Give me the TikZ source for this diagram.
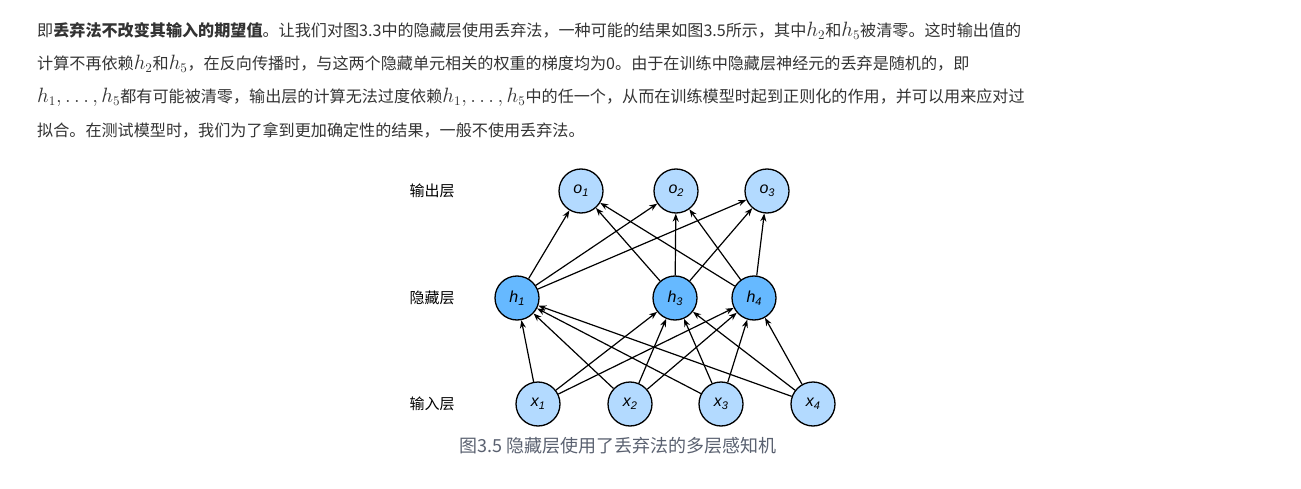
\documentclass[tikz,border=0pt]{standalone}
\usepackage{fontspec}
\setmainfont{Noto Sans CJK SC}
\newfontfamily\lab{Liberation Sans}
\usetikzlibrary{arrows.meta}
\definecolor{txt}{HTML}{333333}
\definecolor{lite}{HTML}{B3DAFF}
\definecolor{deep}{HTML}{66B9FF}
\definecolor{cap}{HTML}{5A6170}
\newcommand{\nl}[2]{{\lab\itshape #1\raisebox{-0.35ex}{\fontsize{11}{11}\selectfont #2}}}
\newcommand{\mh}[1]{\scalebox{1.2}{$#1$}}
\begin{document}
\begin{tikzpicture}[x=1pt,y=-1pt,
  neur/.style={circle,draw=black,line width=1.3pt,minimum size=44pt,inner sep=0pt,font=\fontsize{16}{16}\selectfont},
  inn/.style={neur,fill=lite},
  hid/.style={neur,fill=deep},
  edge/.style={-{Stealth[length=8pt,width=6pt]},line width=1.2pt},
  para/.style={anchor=west,inner sep=0pt,text=txt,font=\fontsize{16.1}{16.1}\selectfont},
  layer/.style={inner sep=0pt,font=\fontsize{15}{15}\selectfont,text=black}]
\useasboundingbox (0,0) rectangle (1301,489);
\node[para] (l1) at (37,31) {即\textbf{丢弃法不改变其输入的期望值}。让我们对图3.3中的隐藏层使用丢弃法，一种可能的结果如图3.5所示，其中\mh{h_2}和\mh{h_5}被清零。这时输出值的};
\node[para] (l2) at (37,64) {计算不再依赖\mh{h_2}和\mh{h_5}，在反向传播时，与这两个隐藏单元相关的权重的梯度均为0。由于在训练中隐藏层神经元的丢弃是随机的，即};
\node[para] (l3) at (37,97) {\mh{h_1,\ldots,h_5}都有可能被清零，输出层的计算无法过度依赖\mh{h_1,\ldots,h_5}中的任一个，从而在训练模型时起到正则化的作用，并可以用来应对过};
\node[para] (l4) at (37,130) {拟合。在测试模型时，我们为了拿到更加确定性的结果，一般不使用丢弃法。};
\node[inn] (o1) at (581,191) {\nl{o}{1}};
\node[inn] (o2) at (676,191) {\nl{o}{2}};
\node[inn] (o3) at (767,191) {\nl{o}{3}};
\node[hid] (h1) at (517,298) {\nl{h}{1}};
\node[hid] (h3) at (675,298) {\nl{h}{3}};
\node[hid] (h4) at (754,298) {\nl{h}{4}};
\node[inn] (x1) at (538,404) {\nl{x}{1}};
\node[inn] (x2) at (630,404) {\nl{x}{2}};
\node[inn] (x3) at (721,404) {\nl{x}{3}};
\node[inn] (x4) at (813,404) {\nl{x}{4}};
\node[layer] (lo) at (432,191) {输出层};
\node[layer] (lh) at (432,298) {隐藏层};
\node[layer] (lx) at (432,404) {输入层};
\node[inner sep=0pt,text=cap,font=\fontsize{18}{18}\selectfont] (cap) at (618,446) {图3.5 隐藏层使用了丢弃法的多层感知机};
\foreach \h in {h1,h3,h4}{\foreach \o in {o1,o2,o3}{\draw[edge] (\h) -- (\o);}}
\foreach \x in {x1,x2,x3,x4}{\foreach \h in {h1,h3,h4}{\draw[edge] (\x) -- (\h);}}
\end{tikzpicture}
\end{document}
